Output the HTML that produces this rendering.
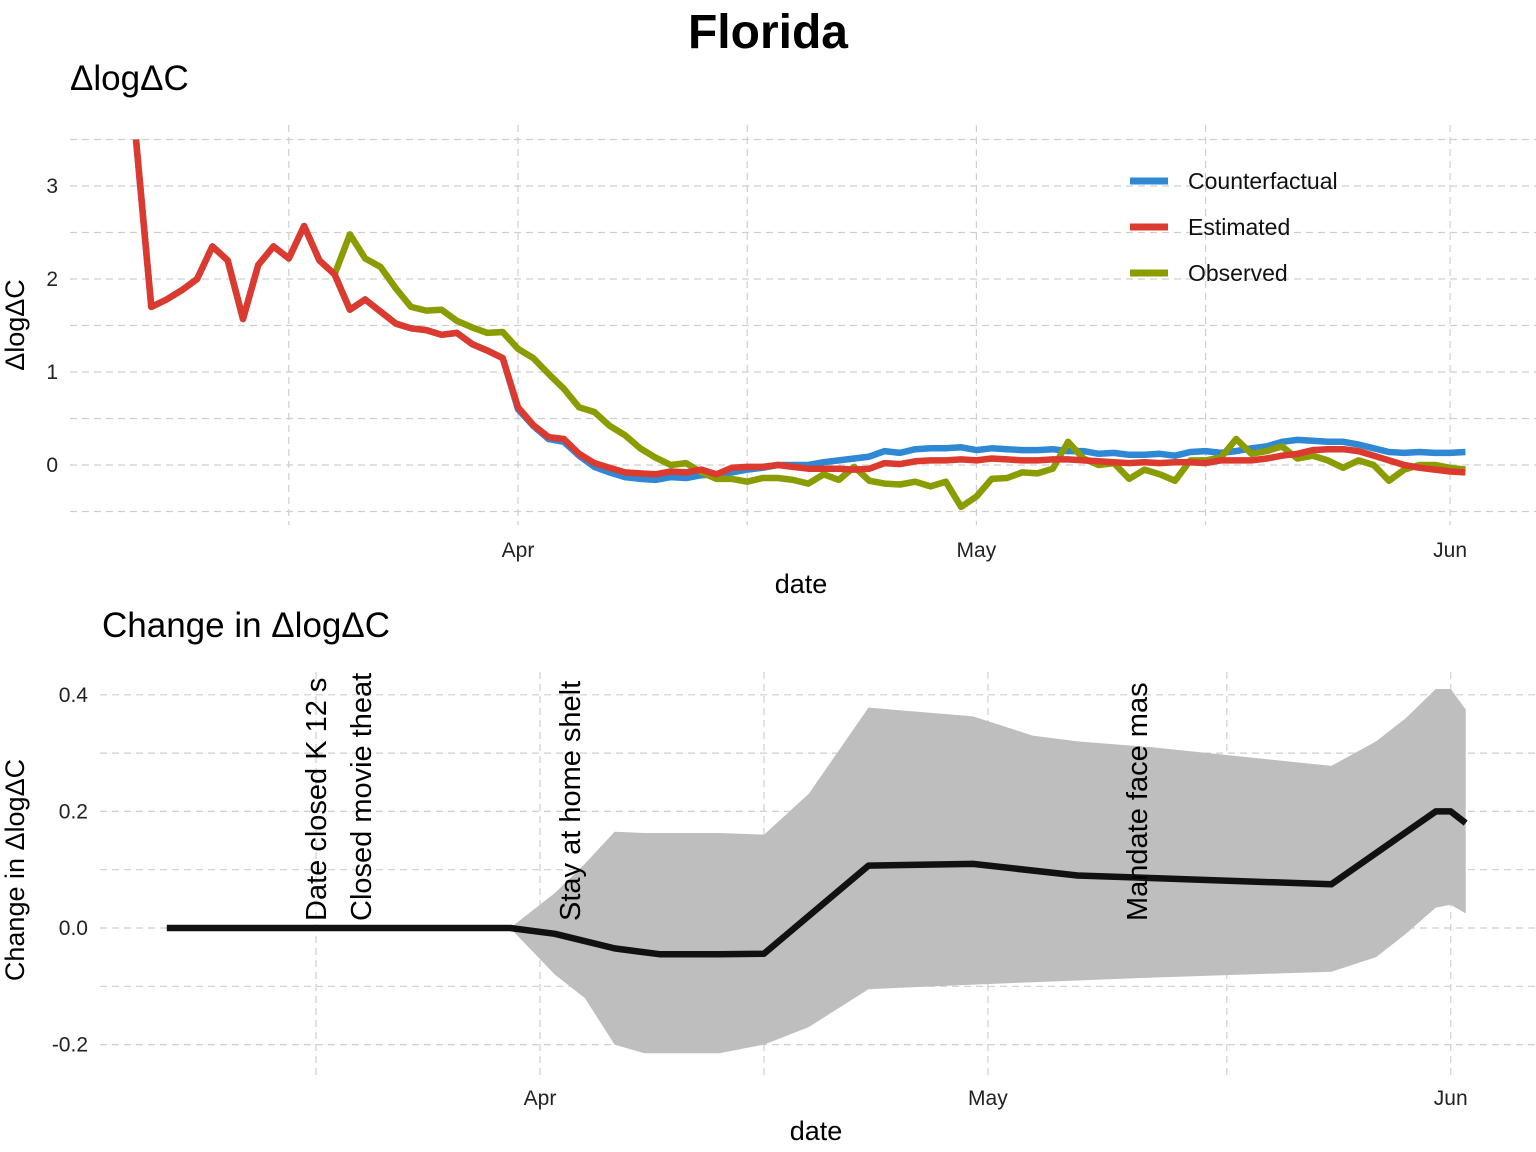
<!DOCTYPE html>
<html><head><meta charset="utf-8"><style>
html,body{margin:0;padding:0;background:#fff;}
svg{display:block;font-family:"Liberation Sans",sans-serif;}
.grid{stroke:#cfcfcf;stroke-width:1.2;stroke-dasharray:7,5;fill:none}
.tick{font-size:21px;fill:#222}
</style></head><body>
<svg id="chart" width="1536" height="1152" viewBox="0 0 1536 1152">
<defs><clipPath id="annClip"><rect x="0" y="668" width="1536" height="400"/></clipPath></defs>
<text x="768" y="48" text-anchor="middle" font-size="48" font-weight="bold">Florida</text>
<g id="topPanel"></g>
<g id="botPanel"></g>
</svg>
<script>
// ---- Top panel data (days relative to Apr 1) ----
const estStart = -25;
const estimated = [3.5,1.7,1.78,1.88,2.0,2.35,2.2,1.57,2.15,2.35,2.22,2.57,2.2,2.05,1.67,1.78,1.65,1.52,1.47,1.45,1.4,1.42,1.3,1.23,1.15,
0.62,0.43,0.3,0.28,0.12,0.02,-0.03,-0.08,-0.09,-0.1,-0.07,-0.08,-0.05,-0.1,-0.03,-0.02,-0.02,0.0,-0.02,-0.04,-0.04,-0.04,-0.05,-0.04,0.02,0.01,0.04,0.05,0.05,0.06,0.05,
0.07,0.06,0.05,0.05,0.06,0.06,0.05,0.04,0.03,0.02,0.03,0.02,0.03,0.03,0.02,0.05,0.05,0.05,0.07,0.1,0.12,0.16,0.17,0.17,0.15,0.1,0.05,0.0,-0.03,-0.05,-0.07,-0.08];
const cfStart = 0;
const counterfactual = [0.6,0.42,0.28,0.25,0.1,-0.02,-0.08,-0.13,-0.15,-0.16,-0.13,-0.14,-0.11,-0.1,-0.08,-0.05,-0.03,0.0,0.0,0.0,0.03,0.05,0.07,0.09,0.15,0.13,0.17,0.18,0.18,0.19,0.16,0.18,0.17,0.16,0.16,0.17,0.15,0.15,0.12,0.13,0.11,0.11,0.12,0.1,0.14,0.15,0.13,0.15,0.18,0.2,0.25,0.27,0.26,0.25,0.25,0.22,0.18,0.14,0.13,0.14,0.13,0.13,0.14];
const obsStart = -12;
const observed = [2.05,2.48,2.22,2.13,1.9,1.7,1.66,1.67,1.55,1.48,1.42,1.43,1.25,1.15,0.98,0.82,0.62,0.57,0.42,0.32,0.18,0.08,0.0,0.02,-0.08,-0.15,-0.15,-0.18,-0.14,-0.14,-0.16,-0.2,-0.1,-0.16,-0.02,-0.17,-0.2,-0.21,-0.18,-0.23,-0.18,-0.45,-0.34,-0.15,-0.14,-0.08,-0.09,-0.04,0.25,0.07,0.0,0.02,-0.15,-0.05,-0.1,-0.17,0.05,0.05,0.08,0.28,0.12,0.15,0.2,0.07,0.1,0.05,-0.03,0.05,0.0,-0.17,-0.05,0.0,0.0,-0.03,-0.05];
const topYTicks = [0,1,2,3];
const topYMinor = [-0.5,0.5,1.5,2.5,3.5];
const topXTickDays = [0,30,61];
const topXTickLabels = ["Apr","May","Jun"];
const topXMinorDays = [-15,15,45];
// ---- Bottom panel data ----
const changeDays = [-25,-2,1,5,8,12,15,22,29,36,53,60,61,62];
const changeMean = [0,0,-0.01,-0.035,-0.045,-0.045,-0.044,0.107,0.11,0.09,0.075,0.2,0.2,0.18];
const bandDays = [-2,1,3,5,7,12,15,18,22,29,33,36,41,53,56,58,60,61,62];
const bandUpper = [0,0.06,0.11,0.165,0.163,0.163,0.16,0.23,0.378,0.363,0.33,0.32,0.31,0.278,0.32,0.36,0.41,0.41,0.375];
const bandLower = [0,-0.08,-0.12,-0.2,-0.215,-0.215,-0.2,-0.17,-0.105,-0.097,-0.093,-0.09,-0.085,-0.075,-0.05,-0.01,0.035,0.04,0.025];
const botYTicks = [-0.2,0,0.2,0.4];
const botYTickLabels = ["-0.2","0.0","0.2","0.4"];
const botYMinor = [-0.1,0.1,0.3];
const botXMinorDays = [-15,15,46];
const annotationDays = [-15,-12,2,40];
const annotationLabels = ["Date closed K 12 s","Closed movie theat","Stay at home  shelt","Mandate face mas"];

const NS="http://www.w3.org/2000/svg";
function el(tag,attrs,parent,txt){const e=document.createElementNS(NS,tag);for(const k in attrs)e.setAttribute(k,attrs[k]);if(txt!==undefined)e.textContent=txt;parent.appendChild(e);return e;}

const tx=d=>518+d*15.28, ty=v=>465-v*93;
const topG=document.getElementById('topPanel');
topYMinor.forEach(v=>{const l=el('line',{x1:70,x2:1536,y1:ty(v),y2:ty(v),class:'grid'},topG);

});
topYTicks.forEach(v=>{const l=el('line',{x1:70,x2:1536,y1:ty(v),y2:ty(v),class:'grid'},topG);


const t=el('text',{x:58,y:ty(v)+7,'text-anchor':'end',class:'tick'},topG,String(v));

});
topXMinorDays.concat(topXTickDays).forEach(d=>{const l=el('line',{x1:tx(d),x2:tx(d),y1:125,y2:525,class:'grid'},topG);

});
topXTickDays.forEach((d,i)=>{const t=el('text',{x:tx(d),y:557,'text-anchor':'middle',class:'tick'},topG,topXTickLabels[i]);

});
function series(arr,start,color,name){const pts=arr.map((v,i)=>tx(start+i).toFixed(1)+','+ty(v).toFixed(1)).join(' ');
const p=el('polyline',{points:pts,fill:'none',stroke:color,'stroke-width':6.5,'stroke-linejoin':'round'},topG);

}
series(estimated.slice(0,25).concat(counterfactual),estStart,'#2e88d4','counterfactual-line');
series(observed,obsStart,'#8b9c00','observed-line');
series(estimated,estStart,'#dc3a2e','estimated-line');
[['Counterfactual','#2e88d4'],['Estimated','#dc3a2e'],['Observed','#8b9c00']].forEach((e,i)=>{const y=181+i*46;
const l=el('line',{x1:1130,x2:1168,y1:y,y2:y,stroke:e[1],'stroke-width':7},topG);


const t=el('text',{x:1188,y:y+8,'font-size':23,fill:'#111'},topG,e[0]);

});
let t1=el('text',{x:70,y:90,'font-size':35},topG,'ΔlogΔC');


t1=el('text',{x:0,y:0,'font-size':27,'text-anchor':'middle',transform:'translate(24,325) rotate(-90)'},topG,'ΔlogΔC');


t1=el('text',{x:801,y:593,'font-size':27,'text-anchor':'middle'},topG,'date');



const bx=d=>540+d*14.93, by=v=>928-v*583;
const botG=document.getElementById('botPanel');
botYMinor.forEach(v=>{const l=el('line',{x1:100,x2:1536,y1:by(v),y2:by(v),class:'grid'},botG);

});
botYTicks.forEach((v,i)=>{const l=el('line',{x1:100,x2:1536,y1:by(v),y2:by(v),class:'grid'},botG);


const t=el('text',{x:88,y:by(v)+7,'text-anchor':'end',class:'tick'},botG,botYTickLabels[i]);

});
botXMinorDays.concat(topXTickDays).forEach(d=>{const l=el('line',{x1:bx(d),x2:bx(d),y1:672,y2:1075,class:'grid'},botG);

});
topXTickDays.forEach((d,i)=>{const t=el('text',{x:bx(d),y:1105,'text-anchor':'middle',class:'tick'},botG,topXTickLabels[i]);

});
const up=bandDays.map((d,i)=>bx(d).toFixed(1)+','+by(bandUpper[i]).toFixed(1));
const lo=bandDays.map((d,i)=>bx(d).toFixed(1)+','+by(bandLower[i]).toFixed(1)).reverse();
const band=el('polygon',{points:up.concat(lo).join(' '),fill:'#bebebe'},botG);


const ml=el('polyline',{points:changeDays.map((d,i)=>bx(d).toFixed(1)+','+by(changeMean[i]).toFixed(1)).join(' '),fill:'none',stroke:'#111','stroke-width':6.5,'stroke-linejoin':'round'},botG);


const ag=el('g',{'clip-path':'url(#annClip)'},botG);
annotationDays.forEach((d,i)=>{const x=bx(d)+10;
const t=el('text',{x:0,y:0,'font-size':29,transform:`translate(${x},921) rotate(-90)`},ag,annotationLabels[i]);

});
t1=el('text',{x:102,y:637,'font-size':35},botG,'Change in ΔlogΔC');


t1=el('text',{x:0,y:0,'font-size':27,'text-anchor':'middle',transform:'translate(24,870) rotate(-90)'},botG,'Change in ΔlogΔC');


t1=el('text',{x:816,y:1140,'font-size':27,'text-anchor':'middle'},botG,'date');


</script>
</body></html>
